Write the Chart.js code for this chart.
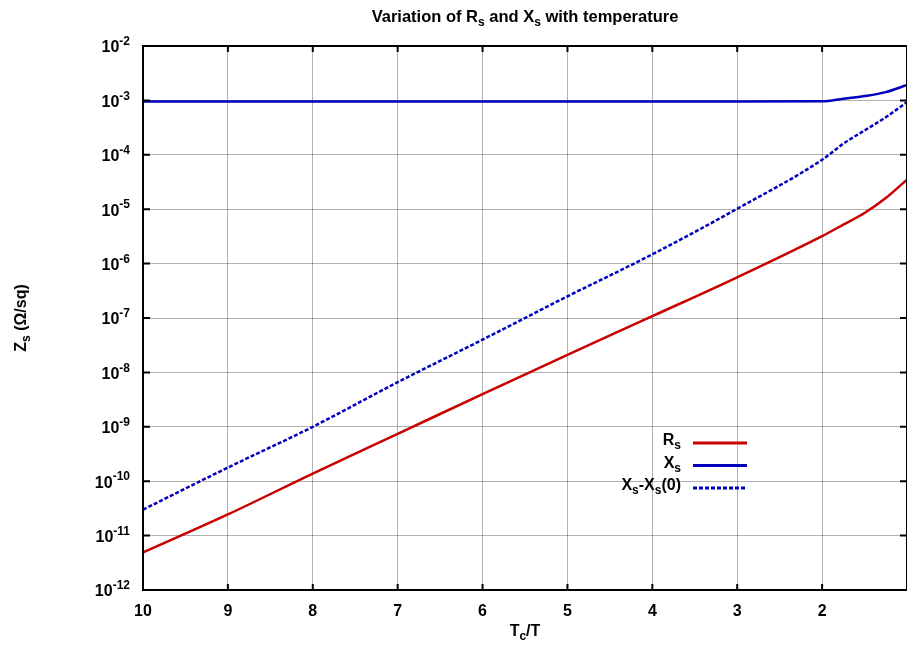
<!DOCTYPE html>
<html>
<head>
<meta charset="utf-8">
<script src="https://cdn.jsdelivr.net/npm/chart.js@4.4.1/dist/chart.umd.min.js"></script>
<style>
  html, body { margin: 0; padding: 0; background: #fff; }
  #wrap { width: 907px; height: 649px; }
</style>
</head>
<body>
<div id="wrap"><canvas id="chart"></canvas></div>
<script>
// Tc/T values (plotted from 10 down to 1)
const tcOverT = [10, 9, 8, 7, 6, 5, 4, 3, 2, 1.75, 1.5, 1.25, 1];

// Rs (ohm/sq)
const rsValues = [4.9e-12, 2.45e-11, 1.38e-10, 7.4e-10, 4.0e-9, 2.1e-8, 1.08e-7, 5.6e-7, 3.2e-6, 5.2e-6, 8.5e-6, 1.6e-5, 3.5e-5];
// Xs (ohm/sq)
const xsValues = [9.5e-4, 9.5e-4, 9.5e-4, 9.5e-4, 9.5e-4, 9.5e-4, 9.5e-4, 9.5e-4, 9.6e-4, 1.07e-3, 1.2e-3, 1.42e-3, 1.92e-3];
// Xs - Xs(0) (ohm/sq)
const xsDiffValues = [3.0e-11, 1.78e-10, 1.0e-9, 6.6e-9, 4.0e-8, 2.5e-7, 1.48e-6, 1.02e-5, 8.1e-5, 1.6e-4, 2.8e-4, 4.9e-4, 9.3e-4];

// decade exponents of the y axis
const yTickPowers = [-12, -11, -10, -9, -8, -7, -6, -5, -4, -3, -2];

// texts, with subscript / superscript parts: [text, 0 normal | 1 sub | -1 sup]
const titleParts = [["Variation of ", 0], ["R", 0], ["s", 1], [" and ", 0], ["X", 0], ["s", 1], [" with temperature", 0]];
const xTitleParts = [["T", 0], ["c", 1], ["/T", 0]];
const yTitleParts = [["Z", 0], ["s", 1], [" (\u03A9/sq)", 0]];
const legendParts = [
  [["R", 0], ["s", 1]],
  [["X", 0], ["s", 1]],
  [["X", 0], ["s", 1], ["-X", 0], ["s", 1], ["(0)", 0]],
];

const FONT = '"Liberation Sans", Arial, Helvetica, sans-serif';

function toPoints(values) {
  return tcOverT.map((x, i) => ({ x: x, y: values[i] }));
}

/**
 * draw text made of normal / subscript / superscript pieces
 */
function drawRich(ctx, parts, x, y, size, align) {
  const fontFor = (s) => `bold ${s === 0 ? size : Math.round(size * 0.72)}px ${FONT}`;
  let w = 0;
  parts.forEach(([t, s]) => {
    ctx.font = fontFor(s);
    w += ctx.measureText(t).width;
  });
  let cx = align === "center" ? x - w / 2 : align === "right" ? x - w : x;
  ctx.textAlign = "left";
  ctx.textBaseline = "middle";
  parts.forEach(([t, s]) => {
    ctx.font = fontFor(s);
    const dy = s === 1 ? size * 0.32 : s === -1 ? -size * 0.38 : 0;
    ctx.fillText(t, cx, y + dy);
    cx += ctx.measureText(t).width;
  });
}

// gnuplot style frame, inward ticks, labels and key
const gnuplotDecor = {
  id: "gnuplotDecor",
  afterDraw(chart) {
    const ctx = chart.ctx;
    const area = chart.chartArea;
    const xs = chart.scales.x;
    const ys = chart.scales.y;
    ctx.save();
    ctx.fillStyle = "#000";
    ctx.strokeStyle = "#000";

    // frame
    ctx.lineWidth = 2;
    ctx.strokeRect(area.left, area.top, area.right - area.left, area.bottom - area.top);

    // inward ticks
    ctx.beginPath();
    xs.ticks.forEach((t) => {
      const px = xs.getPixelForValue(t.value);
      ctx.moveTo(px, area.bottom);
      ctx.lineTo(px, area.bottom - 6);
      ctx.moveTo(px, area.top);
      ctx.lineTo(px, area.top + 6);
    });
    ys.ticks.forEach((t) => {
      const py = ys.getPixelForValue(t.value);
      ctx.moveTo(area.left, py);
      ctx.lineTo(area.left + 7, py);
      ctx.moveTo(area.right, py);
      ctx.lineTo(area.right - 7, py);
    });
    ctx.stroke();

    // y tick labels 10^n
    yTickPowers.forEach((p) => {
      const py = ys.getPixelForValue(Math.pow(10, p));
      drawRich(ctx, [["10", 0], [String(p), -1]], 130, py + 2, 16, "right");
    });

    // title and axis titles
    const midX = (area.left + area.right) / 2;
    drawRich(ctx, titleParts, midX, 17, 16.5, "center");
    drawRich(ctx, xTitleParts, midX, 632, 16, "center");
    ctx.save();
    ctx.translate(22, (area.top + area.bottom) / 2);
    ctx.rotate(-Math.PI / 2);
    drawRich(ctx, yTitleParts, 0, 0, 16, "center");
    ctx.restore();

    // key
    chart.data.datasets.forEach((ds, i) => {
      const ky = 443 + i * 22.5;
      drawRich(ctx, legendParts[i], 681, ky - 2, 16, "right");
      ctx.beginPath();
      ctx.lineWidth = 3;
      ctx.strokeStyle = ds.borderColor;
      ctx.setLineDash(ds.borderDash || []);
      ctx.moveTo(693, ky);
      ctx.lineTo(747, ky);
      ctx.stroke();
    });
    ctx.restore();
  },
};

const data = {
  datasets: [
    {
      label: "Rs",
      data: toPoints(rsValues),
      borderColor: "rgb(200, 0, 0)",
      borderWidth: 2.5,
      pointRadius: 0,
      cubicInterpolationMode: "monotone",
      fill: false,
    },
    {
      label: "Xs",
      data: toPoints(xsValues),
      borderColor: "rgb(0, 0, 190)",
      borderWidth: 2.5,
      pointRadius: 0,
      cubicInterpolationMode: "monotone",
      fill: false,
    },
    {
      label: "Xs-Xs(0)",
      data: toPoints(xsDiffValues),
      borderColor: "rgb(0, 0, 190)",
      borderWidth: 2.5,
      borderDash: [4, 2],
      pointRadius: 0,
      cubicInterpolationMode: "monotone",
      fill: false,
    },
  ],
};

const options = {
  responsive: true,
  maintainAspectRatio: false,
  animation: false,
  layout: { padding: { top: 46, right: 0, bottom: 0, left: 0 } },
  plugins: {
    title: { display: false },
    legend: { display: false },
    tooltip: { enabled: false },
  },
  scales: {
    x: {
      type: "linear",
      reverse: true,
      min: 1,
      max: 10,
      border: { display: false },
      grid: { color: "rgba(0, 0, 0, 0.3)", lineWidth: 1, drawTicks: false },
      ticks: {
        stepSize: 1,
        padding: 12,
        color: "#000",
        font: { family: FONT, size: 16, weight: "bold" },
        maxRotation: 0,
        callback: (v) => (v === 1 ? "" : String(v)),
      },
      afterFit: (scale) => {
        scale.height = 59;
        scale.paddingLeft = 0;
        scale.paddingRight = 0;
      },
    },
    y: {
      type: "logarithmic",
      min: 1e-12,
      max: 1e-2,
      border: { display: false },
      grid: { color: "rgba(0, 0, 0, 0.3)", lineWidth: 1, drawTicks: false },
      ticks: { display: false },
      afterBuildTicks: (scale) => {
        scale.ticks = yTickPowers.map((p) => ({ value: Math.pow(10, p) }));
      },
      afterFit: (scale) => {
        scale.width = 143;
        scale.paddingTop = 0;
        scale.paddingBottom = 0;
      },
    },
  },
};

new Chart(document.getElementById("chart"), {
  type: "line",
  data: data,
  options: options,
  plugins: [gnuplotDecor],
});
</script>
</body>
</html>
